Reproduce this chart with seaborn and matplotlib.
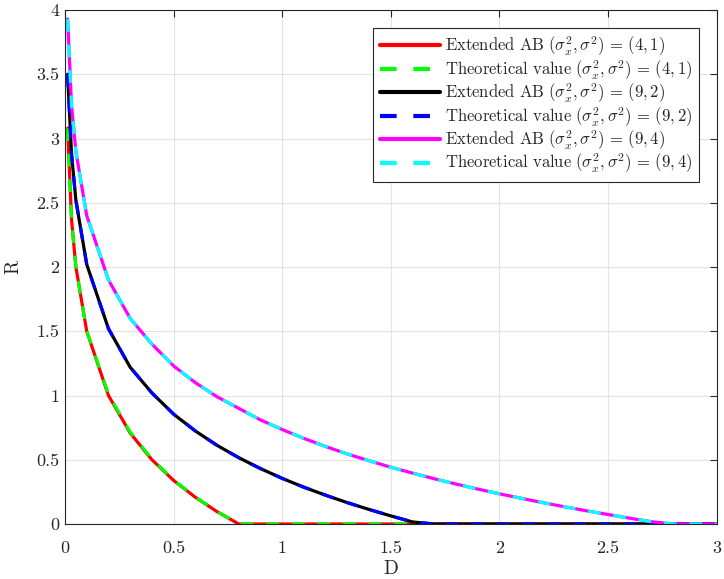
import numpy as np
import pandas as pd
import matplotlib
matplotlib.use("Agg")
import matplotlib.pyplot as plt
import seaborn as sns

# distortion grid
D = [0.012, 0.03, 0.05, 0.1, 0.2, 0.3, 0.4, 0.5, 0.6, 0.7, 0.8, 0.9, 1.0,
     1.1, 1.2, 1.3, 1.4, 1.5, 1.6, 1.7, 1.8, 1.9, 2.0, 2.1, 2.2, 2.3, 2.4,
     2.5, 2.6, 2.7, 2.8, 2.9, 3.0]

# (sigma_x^2, sigma^2) = (4, 1)
R_ab_41 = [3.08, 2.37, 2.0, 1.5, 1.0, 0.708, 0.5, 0.339, 0.208, 0.096, 0.0,
           0, 0, 0, 0, 0, 0, 0, 0, 0, 0, 0, 0, 0, 0, 0, 0, 0, 0, 0, 0, 0, 0]
R_th_41 = [3.08, 2.37, 2.0, 1.5, 1.01, 0.715, 0.505, 0.342, 0.21, 0.097, 0.0,
           0, 0, 0, 0, 0, 0, 0, 0, 0, 0, 0, 0, 0, 0, 0, 0, 0, 0, 0, 0, 0, 0]

# (9, 2)
R_ab_92 = [3.50, 2.88, 2.52, 2.02, 1.52, 1.22, 1.02, 0.855, 0.724, 0.612,
           0.516, 0.431, 0.355, 0.286, 0.224, 0.166, 0.113, 0.063, 0.016,
           0, 0, 0, 0, 0, 0, 0, 0, 0, 0, 0, 0, 0, 0]
R_th_92 = [3.50, 2.88, 2.52, 2.02, 1.52, 1.22, 1.02, 0.855, 0.724, 0.612,
           0.516, 0.431, 0.355, 0.286, 0.224, 0.166, 0.113, 0.063, 0.016,
           0, 0, 0, 0, 0, 0, 0, 0, 0, 0, 0, 0, 0, 0]

# (9, 4)
R_ab_94 = [3.93, 3.26, 2.90, 2.40, 1.90, 1.60, 1.40, 1.23, 1.10, 0.99, 0.90,
           0.81, 0.735, 0.666, 0.603, 0.545, 0.492, 0.442, 0.396, 0.352,
           0.311, 0.272, 0.235, 0.200, 0.166, 0.134, 0.103, 0.074, 0.045,
           0.018, 0, 0, 0]
R_th_94 = [3.93, 3.26, 2.90, 2.40, 1.90, 1.60, 1.40, 1.23, 1.10, 0.99, 0.90,
           0.81, 0.735, 0.666, 0.603, 0.545, 0.492, 0.442, 0.396, 0.352,
           0.311, 0.272, 0.235, 0.200, 0.166, 0.134, 0.103, 0.074, 0.045,
           0.018, 0, 0, 0]

params = ["4,1", "9,2", "9,4"]
ab_series = [R_ab_41, R_ab_92, R_ab_94]
th_series = [R_th_41, R_th_92, R_th_94]
ab_colors = ["#ff0000", "#000000", "#ff00ff"]
th_colors = ["#00ff00", "#0000ff", "#00ffff"]

sns.set_style("white")
plt.rcParams["mathtext.fontset"] = "cm"
plt.rcParams["font.family"] = ["cmr10", "DejaVu Serif"]
plt.rcParams["axes.formatter.use_mathtext"] = True

fig = plt.figure(figsize=(7.24, 5.79), dpi=100)
ax = fig.add_axes([0.0898, 0.095, 0.900, 0.8877])

for p, ab, th, c_ab, c_th in zip(params, ab_series, th_series, ab_colors, th_colors):
    sns.lineplot(x=D, y=ab, ax=ax, color=c_ab, linewidth=2.3,
                 label=r"$\mathrm{Extended\ AB}\ (\sigma_x^2,\sigma^2)\,=\,(" + p + ")$")
    sns.lineplot(x=D, y=th, ax=ax, color=c_th, linewidth=2.3,
                 label=r"$\mathrm{Theoretical\ value}\ (\sigma_x^2,\sigma^2)\,=\,(" + p + ")$")
    ax.lines[-1].set_dashes((4, 4))

ax.set_xlim(0, 3)
ax.set_ylim(0, 4)
ax.set_xticks(np.arange(0, 3.01, 0.5))
ax.set_yticks(np.arange(0, 4.01, 0.5))
ax.set_xticklabels(["0", "0.5", "1", "1.5", "2", "2.5", "3"])
ax.set_yticklabels(["0", "0.5", "1", "1.5", "2", "2.5", "3", "3.5", "4"])
ax.grid(True, color="#e3e3e3", linewidth=0.8)
ax.tick_params(direction="in", top=True, right=True, length=5, width=0.8,
               labelsize=13, colors="#262626")
ax.tick_params(axis="x", pad=12)
ax.tick_params(axis="y", pad=4)
for s in ax.spines.values():
    s.set_color("#262626")
    s.set_linewidth(0.8)
ax.set_xlabel("D", fontsize=14, color="#262626", labelpad=3)
ax.set_ylabel("R", fontsize=14, color="#262626", labelpad=10)

leg = ax.legend(loc="upper right", fontsize=12, handlelength=3.6,
                labelspacing=0.0, handletextpad=0.3, borderpad=0.42,
                borderaxespad=1.05, fancybox=False, framealpha=1,
                edgecolor="#262626")
leg.get_frame().set_linewidth(0.8)
for h in leg.get_lines():
    h.set_linewidth(3)

fig.savefig("out.png", dpi=100)
